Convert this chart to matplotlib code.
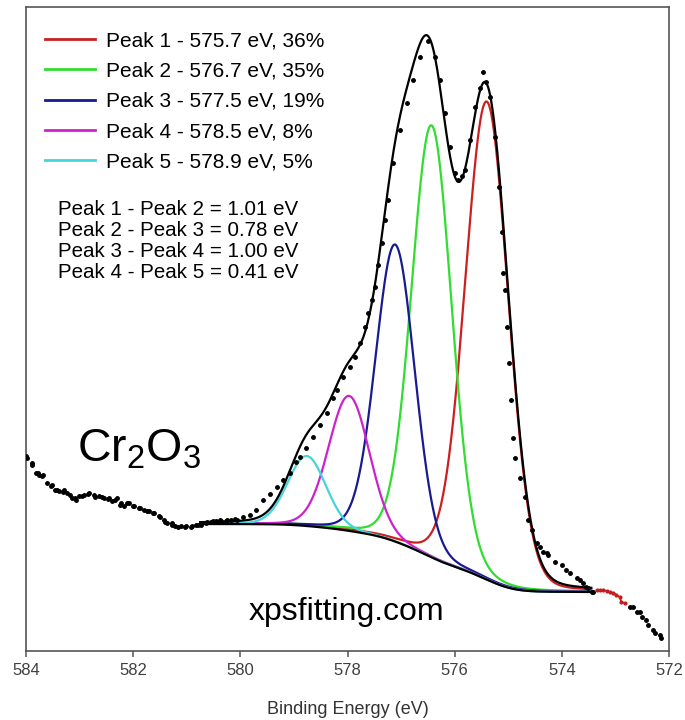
import numpy as np
import matplotlib
matplotlib.use("Agg")
import matplotlib.pyplot as plt

plt.rcParams["font.family"] = ["Liberation Sans", "DejaVu Sans"]
plt.rcParams["mathtext.fontset"] = "custom"
plt.rcParams["mathtext.rm"] = "Liberation Sans"
plt.rcParams["mathtext.it"] = "Liberation Sans:italic"

# Cr 2p3/2 spectrum of Cr2O3: binding energy (eV) and counts (arb. units)
data_be = [
    584.00, 583.98, 583.89, 583.88, 583.82, 583.78, 583.76, 583.70, 583.68, 583.60,
    583.54, 583.52, 583.45, 583.43, 583.38, 583.31, 583.29, 583.23, 583.18, 583.14,
    583.09, 583.07, 583.01, 582.96, 582.92, 582.84, 582.82, 582.73, 582.71, 582.64,
    582.59, 582.55, 582.47, 582.45, 582.39, 582.34, 582.30, 582.25, 582.23, 582.17,
    582.12, 582.08, 582.00, 581.98, 581.89, 581.87, 581.80, 581.75, 581.70, 581.63,
    581.61, 581.52, 581.50, 581.42, 581.41, 581.36, 581.28, 581.27, 581.21, 581.16,
    581.11, 581.03, 581.02, 580.93, 580.91, 580.83, 580.79, 580.74, 580.65, 580.63,
    580.55, 580.51, 580.46, 580.38, 580.37, 580.27, 580.25, 580.18, 580.10, 580.06,
    579.95, 579.82, 579.71, 579.58, 579.45, 579.32, 579.20,
    579.07, 578.96, 578.89, 578.77, 578.64, 578.51, 578.39, 578.27, 578.20, 578.08,
    577.95, 577.86, 577.77, 577.67, 577.62, 577.55, 577.49, 577.43, 577.36, 577.30,
    577.24, 577.15, 577.02, 576.89, 576.78, 576.65, 576.50, 576.37, 576.27, 576.18,
    576.09, 575.99, 575.94, 575.86, 575.81, 575.72, 575.62, 575.53, 575.48, 575.42,
    575.34, 575.25, 575.17, 575.12, 575.10, 575.06, 575.03, 574.99, 574.94, 574.92,
    574.87, 574.78, 574.69, 574.63, 574.56, 574.47, 574.41, 574.35, 574.28, 574.26,
    574.13, 574.00, 573.92, 573.85, 573.72, 573.66, 573.60, 573.54, 573.51, 573.44,
    573.42, 573.34, 573.29, 573.23, 573.16, 573.10, 573.04, 572.98, 572.92, 572.89,
    572.83, 572.73, 572.67, 572.60, 572.55, 572.51, 572.42, 572.39, 572.30, 572.26,
    572.17, 572.14,
]
data_counts = [
    195, 193, 188, 186, 178, 178, 176, 175, 176, 168,
    165, 166, 161, 161, 160, 159, 161, 158, 156, 153,
    153, 151, 155, 155, 156, 157, 158, 156, 154, 155,
    154, 153, 152, 153, 150, 151, 153, 146, 148, 145,
    148, 148, 145, 145, 143, 143, 141, 140, 140, 138,
    138, 135, 134, 131, 129, 128, 128, 126, 125, 124,
    125, 124, 125, 124, 125, 126, 126, 126, 128, 129,
    129, 130, 130, 131, 130, 130, 131, 131, 132, 131,
    134, 136, 141, 151, 157, 164, 171,
    178, 189, 194, 203, 214, 226, 238, 253, 261, 274,
    284, 294, 308, 324, 338, 351, 364, 386, 408, 431,
    451, 488, 521, 548, 571, 594, 610, 594, 571, 538,
    504, 478, 471, 475, 481, 511, 544, 563, 579, 569,
    554, 514, 464, 419, 378, 361, 324, 288, 251, 213,
    193, 173, 154, 131, 121, 108, 104, 99, 98, 96,
    89, 86, 81, 78, 73, 71, 68, 64, 63, 59,
    59, 61, 61, 61, 60, 59, 58, 56, 54, 49,
    48, 44, 44, 39, 39, 34, 31, 26, 21, 18,
    16, 13,
]
# points outside the fitted window that are flagged in red
flagged_window = (572.80, 573.36)

# fitted components: position, height above background and FWHM
peak_names = ["Peak 1", "Peak 2", "Peak 3", "Peak 4", "Peak 5"]
peak_pos = [575.40, 576.43, 577.11, 577.97, 578.76]
peak_height = [478, 432, 297, 135, 70]
peak_fwhm = [0.95, 0.88, 0.86, 0.90, 0.84]
peak_colors = ["#cc2020", "#30dd30", "#1a1a90", "#cc22cc", "#44d4dc"]
# reported binding energies and area fractions
legend_be = ["575.7", "576.7", "577.5", "578.5", "578.9"]
peak_pct = [36, 35, 19, 8, 5]

# peak separations
split_pairs = [(1, 2), (2, 3), (3, 4), (4, 5)]
split_ev = [1.01, 0.78, 1.00, 0.41]

# fit window and Shirley end points (low BE end, high BE end)
fit_lo, fit_hi = 573.45, 580.75
bg_lo, bg_hi = 59.0, 127.0
gl_mix = 0.1


def gl_peak(e, center, fwhm, height, mix):
    x2 = ((e - center) / fwhm) ** 2
    return height * ((1 - mix) * np.exp(-4.0 * np.log(2.0) * x2) + mix / (1.0 + 4.0 * x2))


e = np.linspace(fit_lo, fit_hi, 800)
comps = [gl_peak(e, c, w, h, gl_mix)
         for c, w, h in zip(peak_pos, peak_fwhm, peak_height)]
peak_sum = np.sum(comps, axis=0)
# Shirley background: step proportional to the peak area at lower binding energy
cum = np.concatenate([[0.0], np.cumsum(0.5 * (peak_sum[1:] + peak_sum[:-1]) * np.diff(e))])
shirley = bg_lo + (bg_hi - bg_lo) * cum / cum[-1]
envelope = shirley + peak_sum

fig = plt.figure(figsize=(6.85, 7.2), dpi=100)
ax = fig.add_axes([26 / 685, 69 / 720, 643 / 685, 644 / 720])

for comp, col, name, be, pct in zip(comps, peak_colors, peak_names, legend_be, peak_pct):
    ax.plot(e, shirley + comp, color=col, lw=1.6, zorder=2,
            label=f"{name} - {be} eV, {pct}%")
ax.plot(e, shirley, color="black", lw=1.6, zorder=3)
ax.plot(e, envelope, color="black", lw=1.6, zorder=3)

be_arr = np.array(data_be)
cnt_arr = np.array(data_counts)
flag = (be_arr >= flagged_window[0]) & (be_arr <= flagged_window[1])
ax.plot(be_arr[~flag], cnt_arr[~flag], linestyle="none", marker="o", ms=2.5,
        color="black", zorder=4)
ax.plot(be_arr[flag], cnt_arr[flag], linestyle="-", lw=1.2, marker="o", ms=2.0,
        color="#c02020", zorder=4)

ax.set_xlim(584, 572)
ax.set_ylim(0, 644)
ax.set_xticks([584, 582, 580, 578, 576, 574, 572])
ax.set_yticks([])
ax.tick_params(axis="x", direction="out", length=4.5, width=1.1, color="#555555",
               labelsize=12, labelcolor="#404040", pad=4)
for sp in ax.spines.values():
    sp.set_color("#555555")
    sp.set_linewidth(1.2)
ax.set_xlabel("Binding Energy (eV)", fontsize=13, color="#333333", labelpad=17)

leg = ax.legend(loc="upper left", bbox_to_anchor=(0.0296, 0.962), frameon=False,
                fontsize=15, handlelength=2.4, handletextpad=0.55,
                labelspacing=0.54, borderpad=0, borderaxespad=0)
for h in leg.legend_handles:
    h.set_linewidth(2.0)

for k, ((a, b), d) in enumerate(zip(split_pairs, split_ev)):
    ax.text(0.0498, 0.686 - k * 0.0325, f"Peak {a} - Peak {b} = {d:.2f} eV",
            transform=ax.transAxes, fontsize=14.8, va="center", ha="left")

ax.text(0.0793, 0.2935, r"Cr$_2$O$_3$", transform=ax.transAxes, fontsize=33.5,
        va="baseline", ha="left")
ax.text(0.4977, 0.048, "xpsfitting.com", transform=ax.transAxes, fontsize=23,
        va="baseline", ha="center")

fig.savefig("out.png", dpi=100)
